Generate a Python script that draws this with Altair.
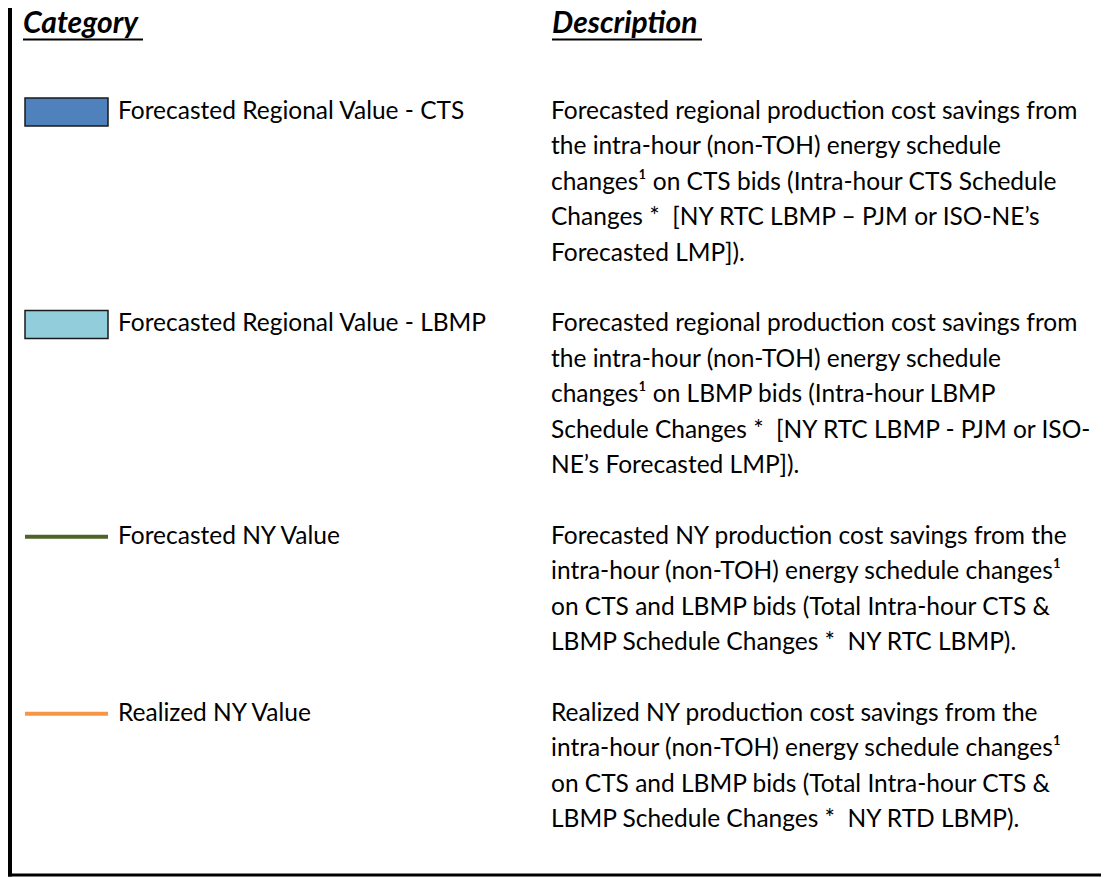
import altair as alt
import pandas as pd

# ---------------- content ----------------
headers = ["Category", "Description"]
categories = [
    "Forecasted Regional Value - CTS",
    "Forecasted Regional Value - LBMP",
    "Forecasted NY Value",
    "Realized NY Value",
]
symbol_kinds = ["box", "box", "line", "line"]
symbol_colors = ["#4F81BD", "#92CDDC", "#4F6228", "#F79646"]
desc_cts = [
    "Forecasted regional production cost savings from",
    "the intra-hour (non-TOH) energy schedule",
    "changes\u00b9 on CTS bids (Intra-hour CTS Schedule",
    "Changes *\u00a0 [NY RTC LBMP \u2013 PJM or ISO-NE\u2019s",
    "Forecasted LMP]).",
]
desc_lbmp = [
    "Forecasted regional production cost savings from",
    "the intra-hour (non-TOH) energy schedule",
    "changes\u00b9 on LBMP bids (Intra-hour LBMP",
    "Schedule Changes *\u00a0 [NY RTC LBMP - PJM or ISO-",
    "NE\u2019s Forecasted LMP]).",
]
desc_ny_fc = [
    "Forecasted NY production cost savings from the",
    "intra-hour (non-TOH) energy schedule changes\u00b9",
    "on CTS and LBMP bids (Total Intra-hour CTS &",
    "LBMP Schedule Changes *\u00a0 NY RTC LBMP).",
]
desc_ny_real = [
    "Realized NY production cost savings from the",
    "intra-hour (non-TOH) energy schedule changes\u00b9",
    "on CTS and LBMP bids (Total Intra-hour CTS &",
    "LBMP Schedule Changes *\u00a0 NY RTD LBMP).",
]
descriptions = [desc_cts, desc_lbmp, desc_ny_fc, desc_ny_real]

# ---------------- layout (page pixels) ----------------
W, H = 1093, 869
OFF = 8
FONT = "Lato"
BODY_SIZE = 24.5
HEAD_SIZE = 30
header_x = [23, 552]
header_w = [120, 150]
header_base = 33
underline_y = 39.5
cat_x = 118
desc_x = 551
line0 = 112
step = 35.4
sym_x0, sym_x1 = 25, 108
box_half = 14

# build tables
text_rows, sym_rows = [], []
idx = 0
for i, (cat, lines) in enumerate(zip(categories, descriptions)):
    y0 = line0 + idx * step
    text_rows.append({"text": cat, "x": cat_x, "y": y0})
    for j, ln in enumerate(lines):
        text_rows.append({"text": ln, "x": desc_x, "y": y0 + j * step})
    sym_rows.append({"kind": symbol_kinds[i], "color": symbol_colors[i],
                     "x": sym_x0, "x2": sym_x1, "y": y0 - box_half, "y2": y0 + box_half,
                     "yc": y0})
    idx += len(lines) + 1

text_df = pd.DataFrame(text_rows)
sym_df = pd.DataFrame(sym_rows)
head_df = pd.DataFrame({"text": headers, "x": header_x,
                        "x2": [a + b for a, b in zip(header_x, header_w)],
                        "y": [header_base] * 2, "yu": [underline_y] * 2})
border_df = pd.DataFrame({"x": [9.5, 5], "x2": [9.5, 1109], "y": [0, 875], "y2": [876.5, 875],
                          "w": [5, 3]})

xs = alt.Scale(domain=[OFF, OFF + W], nice=False, zero=False)
ys = alt.Scale(domain=[OFF, OFF + H], nice=False, zero=False, reverse=True)

def X(f):
    return alt.X(f, type="quantitative", scale=xs, axis=None)

def Y(f):
    return alt.Y(f, type="quantitative", scale=ys, axis=None)

body = alt.Chart(text_df).mark_text(
    align="left", baseline="middle", font=FONT, fontSize=BODY_SIZE, color="#000000"
).encode(x=X("x"), y=Y("y"), text="text:N")

heads = alt.Chart(head_df).mark_text(
    align="left", baseline="alphabetic", font=FONT, fontSize=HEAD_SIZE,
    fontWeight="bold", fontStyle="italic", color="#000000"
).encode(x=X("x"), y=Y("y"), text="text:N")

underl = alt.Chart(head_df).mark_rule(color="#000000", strokeWidth=2).encode(
    x=X("x"), x2="x2:Q", y=Y("yu"))

boxes = alt.Chart(sym_df).transform_filter(alt.datum.kind == "box").mark_rect(
    stroke="#1a1a1a", strokeWidth=1.5
).encode(x=X("x"), x2="x2:Q", y=Y("y"), y2="y2:Q",
         fill=alt.Fill("color:N", scale=None))

lines = alt.Chart(sym_df).transform_filter(alt.datum.kind == "line").mark_rule(
    strokeWidth=4
).encode(x=X("x"), x2="x2:Q", y=Y("yc"), color=alt.Color("color:N", scale=None))

border = alt.Chart(border_df).mark_rule(color="#000000").encode(
    x=X("x"), x2="x2:Q", y=Y("y"), y2="y2:Q",
    strokeWidth=alt.StrokeWidth("w:Q", scale=None))

chart = alt.layer(border, underl, heads, boxes, lines, body).properties(
    width=W, height=H, padding=0, autosize=alt.AutoSizeParams(type="none")
).configure_view(stroke=None)

chart.save("out.html", embed_options={"renderer": "svg", "actions": False})
